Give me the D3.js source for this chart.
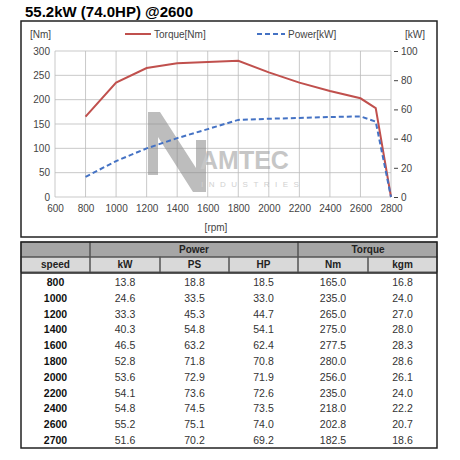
<!DOCTYPE html>
<html><head><meta charset="utf-8">
<script src="https://cdn.jsdelivr.net/npm/d3@7"></script>
<style>body{margin:0;background:#fff;font-family:Arial,"Liberation Sans",sans-serif}</style>
</head><body><svg width="460" height="460"></svg>
<script>
// chart data (2800 rpm = cut-off)
const rpm = [800, 1000, 1200, 1400, 1600, 1800, 2000, 2200, 2400, 2600, 2700, 2800];
const torqueNm = [165, 235, 265, 275, 277.5, 280, 256, 235, 218, 202.8, 182.5, 0];
const powerKw = [13.8, 24.6, 33.3, 40.3, 46.5, 52.8, 53.6, 54.1, 54.8, 55.2, 51.6, 0];
// table
const speeds = ['800','1000','1200','1400','1600','1800','2000','2200','2400','2600','2700'];
const colKw = ['13.8','24.6','33.3','40.3','46.5','52.8','53.6','54.1','54.8','55.2','51.6'];
const colPs = ['18.8','33.5','45.3','54.8','63.2','71.8','72.9','73.6','74.5','75.1','70.2'];
const colHp = ['18.5','33.0','44.7','54.1','62.4','70.8','71.9','72.6','73.5','74.0','69.2'];
const colNm = ['165.0','235.0','265.0','275.0','277.5','280.0','256.0','235.0','218.0','202.8','182.5'];
const colKgm = ['16.8','24.0','27.0','28.0','28.3','28.6','26.1','24.0','22.2','20.7','18.6'];

const svg = d3.select('svg');
const RED = '#c0504d', BLUE = '#4472c4';

svg.append('text').attr('x', 25).attr('y', 17).attr('font-size', 15).attr('font-weight', 'bold').text('55.2kW (74.0HP) @2600');
svg.append('rect').attr('x', 21).attr('y', 21).attr('width', 416).attr('height', 216)
    .attr('fill', 'none').attr('stroke', '#222').attr('stroke-width', 1.5);

const x = d3.scaleLinear().domain([600, 2800]).range([55, 391]);
const yL = d3.scaleLinear().domain([0, 300]).range([197, 51]);
const yR = d3.scaleLinear().domain([0, 100]).range([197, 51]);

// grid
const g = svg.append('g');
g.selectAll('.vx').data(d3.range(600, 2801, 200)).enter().append('line')
    .attr('x1', d => x(d)).attr('x2', d => x(d)).attr('y1', 51).attr('y2', 197).attr('stroke', '#bbb').attr('stroke-width', 0.8);
g.selectAll('.hy').data(d3.range(0, 301, 50)).enter().append('line')
    .attr('x1', 55).attr('x2', 391).attr('y1', d => yL(d)).attr('y2', d => yL(d)).attr('stroke', '#bbb').attr('stroke-width', 0.8);

const fmt = d3.format('d');
const axFont = s => s.attr('font-size', 10).attr('fill', '#444').attr('font-family', 'Arial,"Liberation Sans",sans-serif');
const ax1 = svg.append('g').attr('transform', 'translate(52,0)').call(d3.axisLeft(yL).tickValues(d3.range(0, 301, 50)).tickFormat(fmt).tickSize(0).tickPadding(2));
const ax2 = svg.append('g').attr('transform', 'translate(394,0)').call(d3.axisRight(yR).tickValues(d3.range(0, 101, 20)).tickFormat(fmt).tickSize(4).tickPadding(3));
const ax3 = svg.append('g').attr('transform', 'translate(0,200)').call(d3.axisBottom(x).tickValues(d3.range(600, 2801, 200)).tickFormat(fmt).tickSize(0).tickPadding(5));
[ax1, ax2, ax3].forEach(a => { a.select('.domain').remove(); a.selectAll('text').call(axFont); a.selectAll('line').attr('stroke', '#444'); });

// watermark
const wm = svg.append('g').attr('opacity', 0.55);
wm.append('path').attr('d', 'M148,112 L160,112 L196,168 L196,140 L206,140 L206,192 L193,192 L158,137 L158,175 L148,175 Z').attr('fill', '#888');
wm.append('text').attr('x', 200).attr('y', 169).attr('font-size', 25).attr('font-weight', 'bold').attr('fill', '#999').text('AMTEC');
wm.append('text').attr('x', 201).attr('y', 187).attr('font-size', 8).attr('letter-spacing', 5.5).attr('fill', '#aaa').text('INDUSTRIES');

const lt = d3.line().x((d, i) => x(rpm[i])).y(d => yL(d));
const lp = d3.line().x((d, i) => x(rpm[i])).y(d => yR(d));
svg.append('path').attr('d', lt(torqueNm)).attr('fill', 'none').attr('stroke', RED).attr('stroke-width', 2);
svg.append('path').attr('d', lp(powerKw)).attr('fill', 'none').attr('stroke', BLUE).attr('stroke-width', 2).attr('stroke-dasharray', '5,3');

// labels & legend
const lab = (tx, xx, yy, anchor) => svg.append('text').attr('x', xx).attr('y', yy).attr('font-size', 10).attr('fill', '#444').attr('text-anchor', anchor || 'start').text(tx);
lab('[Nm]', 30, 38); lab('[kW]', 405, 38); lab('[rpm]', 216, 231, 'middle');
svg.append('line').attr('x1', 125).attr('x2', 151).attr('y1', 34).attr('y2', 34).attr('stroke', RED).attr('stroke-width', 2);
lab('Torque[Nm]', 154, 38);
svg.append('line').attr('x1', 257).attr('x2', 285).attr('y1', 34).attr('y2', 34).attr('stroke', BLUE).attr('stroke-width', 2).attr('stroke-dasharray', '5,3');
lab('Power[kW]', 288, 38);

// table
const cols = [21, 90, 160, 229, 298, 368, 437];
const t = svg.append('g');
t.append('rect').attr('x', 21).attr('y', 242).attr('width', 416).attr('height', 15).attr('fill', '#a6a6a6');
t.append('rect').attr('x', 21).attr('y', 257).attr('width', 416).attr('height', 15).attr('fill', '#d9d9d9');
[[21, 90], [90, 298], [298, 437]].forEach(([a, b]) => t.append('rect').attr('x', a).attr('y', 242).attr('width', b - a).attr('height', 15).attr('fill', 'none').attr('stroke', '#555'));
for (let i = 0; i < 6; i++) t.append('rect').attr('x', cols[i]).attr('y', 257).attr('width', cols[i + 1] - cols[i]).attr('height', 15).attr('fill', 'none').attr('stroke', '#555');
t.append('rect').attr('x', 21).attr('y', 242).attr('width', 416).attr('height', 206).attr('fill', 'none').attr('stroke', '#222').attr('stroke-width', 1.5);
t.append('line').attr('x1', 21).attr('x2', 437).attr('y1', 273).attr('y2', 273).attr('stroke', '#222').attr('stroke-width', 1.5);
const hdr = (tx, cx, cy) => t.append('text').attr('x', cx).attr('y', cy).attr('text-anchor', 'middle').attr('font-size', 10).attr('font-weight', 'bold').attr('fill', '#222').text(tx);
hdr('Power', 194, 253); hdr('Torque', 368, 253);
['speed', 'kW', 'PS', 'HP', 'Nm', 'kgm'].forEach((h, i) => hdr(h, (cols[i] + cols[i + 1]) / 2, 268));
const rowY = d3.scaleBand().domain(speeds).range([274, 448]);
const data = [speeds, colKw, colPs, colHp, colNm, colKgm];
data.forEach((col, ci) => {
    t.selectAll('.c' + ci).data(col).enter().append('text')
        .attr('x', (cols[ci] + cols[ci + 1]) / 2).attr('y', (d, i) => rowY(speeds[i]) + rowY.bandwidth() / 2 + 4)
        .attr('text-anchor', 'middle').attr('font-size', 10.5).attr('fill', ci ? '#333' : '#111')
        .attr('font-weight', ci ? 'normal' : 'bold').text(d => d);
});
</script></body></html>
